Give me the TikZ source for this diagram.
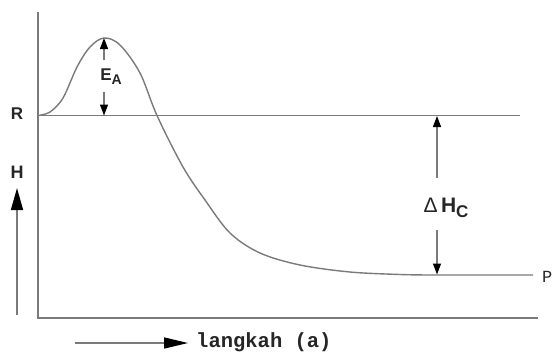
\documentclass[tikz,border=0pt]{standalone}
\usepackage{fontspec}
\setmainfont{Liberation Sans}
\newfontfamily\monof{Liberation Mono}
\usetikzlibrary{arrows.meta}
\definecolor{linegray}{HTML}{7A7A7A}
\definecolor{txt}{HTML}{262626}
\begin{document}
\begin{tikzpicture}[x=1pt,y=-1pt,
  gline/.style={draw=linegray, line width=1.4pt},
  dimarrow/.style={draw=linegray, line width=1.3pt, -{Triangle[length=11pt,width=8pt,fill=black,color=black]}},
  bigarrow/.style={draw=linegray, line width=1.6pt, -{Triangle[length=22pt,width=12pt,fill=black,color=black]}},
  lbl/.style={text=txt, inner sep=0pt, font=\bfseries\fontsize{17}{17}\selectfont}]
\useasboundingbox (0,0) rectangle (553,359);
% axes
\coordinate (top) at (38,12);
\coordinate (origin) at (38,318);
\coordinate (xend) at (538,318);
\draw[gline] (top) -- (origin) -- (xend);
% R level
\coordinate (rstart) at (38,115.5);
\coordinate (rend) at (520,115.5);
\draw[gline] (rstart) -- (rend);
% curve and P level
\coordinate (pend) at (533,275);
\draw[gline] plot[smooth, tension=0.55] coordinates {(38,115.5) (50,112) (63,98) (77,67) (90,47) (104,38) (120,45) (140,73) (157,115.5) (183,167) (205,200) (230,233) (260,253) (300,265) (350,272) (400,274.5) (430,275)} -- (pend);
% E_A
\coordinate (peak) at (104,38);
\coordinate (eabot) at (104,115.5);
\node[lbl] (ea) at (111,77) {E\raisebox{-4pt}{\bfseries\fontsize{14}{14}\selectfont A}};
\coordinate (eau) at (104,60);
\coordinate (ead) at (104,92);
\draw[dimarrow] (eau) -- (peak);
\draw[dimarrow] (ead) -- (eabot);
% Delta H_C
\coordinate (dhtop) at (437,116);
\coordinate (dhbot) at (437,274.5);
\node[lbl, font=\bfseries\fontsize{21}{21}\selectfont] (dh) at (446,208) {\mdseries Δ\,\bfseries H\raisebox{-5pt}{\bfseries\fontsize{17}{17}\selectfont C}};
\coordinate (dhu) at (437,178);
\coordinate (dhd) at (437,230);
\draw[dimarrow] (dhu) -- (dhtop);
\draw[dimarrow] (dhd) -- (dhbot);
% labels R, P, H
\node[lbl] (r) at (17,114) {R};
\node[lbl, font=\monof\fontsize{17}{17}\selectfont, anchor=west] (p) at (542,277) {P};
\node[lbl, font=\bfseries\fontsize{18}{18}\selectfont] (h) at (17,172) {H};
% H arrow
\coordinate (hbase) at (17,315);
\coordinate (htip) at (17,188);
\draw[bigarrow] (hbase) -- (htip);
% langkah arrow
\coordinate (lbase) at (75,343);
\coordinate (ltip) at (188,343);
\draw[bigarrow, -{Triangle[length=24pt,width=11pt,fill=black,color=black]}] (lbase) -- (ltip);
\node[lbl, font=\monof\bfseries\fontsize{20.5}{20.5}\selectfont, anchor=west] (lk) at (196,342) {langkah (a)};
\end{tikzpicture}
\end{document}
